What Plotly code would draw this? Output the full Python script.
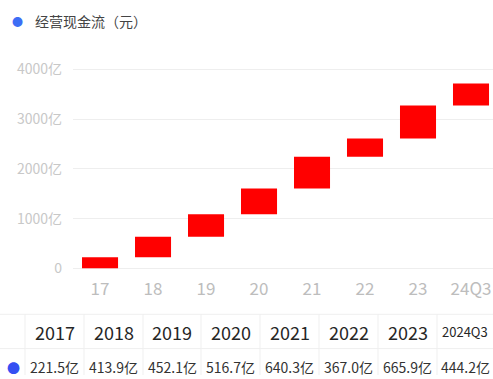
import plotly.graph_objects as go

categories = ["17", "18", "19", "20", "21", "22", "23", "24Q3"]
years = ["2017", "2018", "2019", "2020", "2021", "2022", "2023", "2024Q3"]
values = [221.5, 413.9, 452.1, 516.7, 640.3, 367.0, 665.9, 444.2]
y_ticks = [0, 1000, 2000, 3000, 4000]
y_ticktext = ["0", "1000亿", "2000亿", "3000亿", "4000亿"]

W, H = 493, 379
FONT = "Noto Sans CJK SC, Noto Sans, sans-serif"

fig = go.Figure()
fig.add_trace(go.Waterfall(
    x=categories,
    y=values,
    measure=["relative"] * len(values),
    increasing=dict(marker=dict(color="#ff0000", line=dict(width=0))),
    decreasing=dict(marker=dict(color="#ff0000", line=dict(width=0))),
    connector=dict(visible=False),
    width=0.68,
    hoverinfo="skip",
    showlegend=False,
))

# ---- table below the chart (lines + text) ----
col_edges = [0, 25, 84, 143, 201, 260, 319, 378, 437, 493]
centers = [(col_edges[i] + col_edges[i + 1]) / 2 for i in range(len(col_edges) - 1)]
TOP, MID, HEAD_Y, ROW_Y = 317, 352, 335, 371
LINE = "#efefef"

def py(p):
    return 1 - p / H

def px(p):
    return p / W

shapes = [
    dict(type="line", xref="paper", yref="paper", x0=0, x1=1, y0=py(TOP), y1=py(TOP),
         line=dict(color=LINE, width=1)),
    dict(type="line", xref="paper", yref="paper", x0=0, x1=1, y0=py(MID), y1=py(MID),
         line=dict(color=LINE, width=1)),
]
for e in col_edges[1:-1]:
    shapes.append(dict(type="line", xref="paper", yref="paper", x0=px(e), x1=px(e),
                       y0=py(TOP), y1=0, line=dict(color=LINE, width=1)))

annotations = [
    dict(text="●", x=px(17), y=py(17), xref="paper", yref="paper",
         xanchor="center", yanchor="middle", showarrow=False,
         font=dict(size=11, color="#3d6ef5", family=FONT)),
    dict(text="经营现金流（元）", x=px(33), y=py(17), xref="paper", yref="paper",
         xanchor="left", yanchor="middle", showarrow=False,
         font=dict(size=14, color="#444444", family=FONT)),
    dict(text="●", x=px(centers[0] + 1), y=py(ROW_Y), xref="paper", yref="paper",
         xanchor="center", yanchor="middle", showarrow=False,
         font=dict(size=13, color="#3550f2", family=FONT)),
]
for i, yr in enumerate(years):
    annotations.append(dict(
        text=yr, x=px(centers[i + 1]), y=py(HEAD_Y), xref="paper", yref="paper",
        xanchor="center", yanchor="middle", showarrow=False,
        font=dict(size=13 if "Q" in yr else 18, color="#262626", family=FONT)))
    annotations.append(dict(
        text=f"{values[i]:.1f}亿", x=px(centers[i + 1]), y=py(ROW_Y), xref="paper", yref="paper",
        xanchor="center", yanchor="middle", showarrow=False,
        font=dict(size=14, color="#333333", family=FONT)))

fig.update_layout(
    width=W, height=H,
    margin=dict(l=0, r=0, t=0, b=0),
    paper_bgcolor="white", plot_bgcolor="white",
    font=dict(family=FONT),
    xaxis=dict(
        domain=[73 / W, 1],
        range=[-0.51, 7.415],
        showgrid=False, zeroline=False, showline=False,
        tickfont=dict(size=17, color="#bdbdbd"),
        ticks="", ticklabelstandoff=4, fixedrange=True,
    ),
    yaxis=dict(
        domain=[(H - 275) / H, (H - 60) / H],
        range=[-98.5, 4138],
        tickvals=y_ticks, ticktext=y_ticktext,
        showgrid=True, gridcolor="#eeeeee", gridwidth=1,
        zeroline=False, showline=False,
        tickfont=dict(size=14, color="#c8c8c8"),
        ticks="", ticklabelstandoff=10, fixedrange=True,
    ),
    shapes=shapes,
    annotations=annotations,
)

fig.write_html("out.html")
